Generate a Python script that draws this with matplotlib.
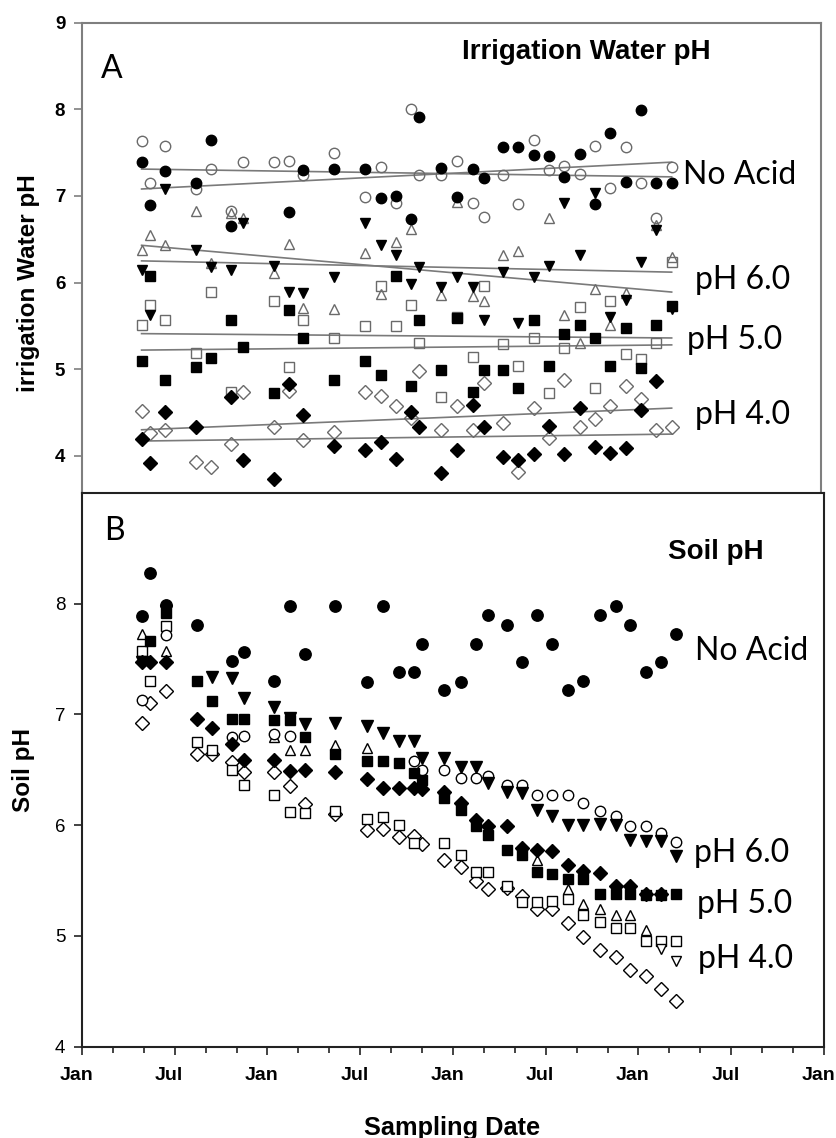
import numpy as np
import matplotlib.pyplot as plt
import matplotlib.transforms as mtransforms

plt.rcParams['font.family'] = 'Liberation Sans'

# sampling dates as months counted from Jan of the first year
water_months = [3.87, 4.40, 5.42, 7.43, 8.40, 9.70, 10.45, 12.44, 13.43, 14.33,
                16.34, 18.39, 19.41, 20.42, 21.39, 21.92, 23.32, 24.38, 25.39, 26.13,
                27.35, 28.32, 29.34, 30.31, 31.33, 32.32, 33.34, 34.31, 35.34, 36.31,
                37.26, 38.30]
soil_months = [3.87, 4.40, 5.42, 7.43, 8.40, 9.70, 10.45, 12.44, 13.43, 14.40,
               16.39, 18.44, 19.48, 20.49, 21.46, 22.00, 23.45, 24.53, 25.50, 26.28,
               27.51, 28.48, 29.45, 30.42, 31.46, 32.43, 33.50, 34.52, 35.45, 36.46,
               37.44, 38.41]

# --- irrigation water pH (panel A) ---
water_circle_filled = [7.39, 6.89, 7.29, 7.15, 7.65, 6.65, None, None, 6.82, 7.30, 7.31, 7.31, 6.98, 7.00, 6.73, 7.91,
                       7.32, 6.99, 7.31, 7.21, 7.56, 7.56, 7.47, 7.46, 7.22, 7.48, 6.91, 7.73, 7.16, 7.99, 7.15, 7.15]
water_circle_open = [7.63, 7.15, 7.58, 7.08, 7.31, 6.83, 7.39, 7.39, 7.40, 7.24, 7.49, 6.99, 7.33, 6.92, 8.00, 7.24,
                     7.24, 7.40, 6.92, 6.76, 7.24, 6.91, 7.65, 7.30, 7.35, 7.25, 7.58, 7.09, 7.56, 7.15, 6.75, 7.33]
water_tri_filled = [6.14, 5.62, 7.08, 6.37, 6.18, 6.14, 6.69, 6.19, 5.89, 5.88, 6.06, 6.69, 6.43, 6.32, 5.98, 6.18,
                    5.95, 6.06, 5.95, 5.57, 6.12, 5.53, 6.06, 6.19, 6.92, 6.32, 7.03, 5.60, 5.80, 6.24, 6.61, 5.70]
water_tri_open = [6.37, 6.55, 6.43, 6.83, 6.22, 6.80, 6.74, 6.11, 6.45, 5.71, 5.69, 6.34, 5.87, 6.47, 6.62, None,
                  5.86, 6.93, 5.84, 5.79, 6.32, 6.36, None, 6.74, 5.62, 5.30, 5.93, 5.51, 5.88, None, 6.66, 6.30]
water_square_filled = [5.09, 6.07, 4.87, 5.03, 5.13, 5.57, 5.25, 4.73, 5.68, 5.36, 4.88, 5.09, 4.93, 6.07, 4.80, 5.57,
                       4.99, 5.59, 4.74, 4.99, 4.99, 4.78, 5.57, 5.04, 5.41, 5.51, 5.36, 5.04, 5.47, 5.01, 5.51, 5.73]
water_square_open = [5.51, 5.74, 5.57, 5.19, 5.89, 4.74, None, 5.79, 5.03, 5.57, 5.36, 5.50, 5.96, 5.50, 5.74, 5.30,
                     4.68, 5.60, 5.14, 5.96, 5.29, 5.04, 5.36, 4.73, 5.24, 5.72, 4.78, 5.79, 5.18, 5.12, 5.30, 6.24]
water_diamond_filled = [4.19, 3.92, 4.50, 4.33, None, 4.68, 3.95, 3.73, 4.83, 4.47, 4.11, 4.07, 4.16, 3.96, 4.51, 4.33,
                        3.80, 4.07, 4.59, 4.33, 3.99, 3.95, 4.02, 4.34, 4.02, 4.55, 4.10, 4.03, 4.09, 4.53, 4.86, None]
water_diamond_open = [4.52, 4.26, 4.30, 3.93, 3.87, 4.14, 4.74, 4.33, 4.75, 4.18, 4.28, 4.74, 4.69, 4.57, 4.44, 4.98,
                      4.30, 4.57, 4.30, 4.84, 4.38, 3.81, 4.55, 4.20, 4.87, 4.33, 4.43, 4.57, 4.80, 4.66, 4.30, 4.33]

# linear trend lines of panel A (value at first and last sampling date)
water_trend_start = [7.31, 7.08, 6.25, 6.43, 5.22, 5.41, 4.17, 4.30]
water_trend_end = [7.22, 7.39, 6.12, 5.89, 5.28, 5.36, 4.25, 4.55]

# --- soil pH (panel B) ---
soil_circle_filled = [7.89, 8.28, 7.99, 7.81, None, 7.48, 7.56, 7.30, 7.98, 7.55, 7.98, 7.29, 7.98, 7.38, 7.38, 7.64,
                      7.22, 7.29, 7.64, 7.90, 7.81, 7.47, 7.90, 7.64, 7.22, 7.30, 7.90, 7.98, 7.81, 7.38, 7.47, 7.73]
soil_circle_open = [7.13, None, 7.72, None, None, 6.80, 6.81, 6.82, 6.81, None, None, None, None, None, 6.58, 6.50,
                    6.50, 6.43, 6.43, 6.44, 6.36, 6.36, 6.27, 6.27, 6.27, 6.20, 6.13, 6.08, 5.99, 5.99, 5.93, 5.85]
soil_tri_filled = [7.47, None, 7.93, None, 7.34, 7.33, 7.15, 7.07, 6.97, 6.91, 6.92, 6.90, 6.83, 6.76, 6.76, 6.61,
                   6.61, 6.53, 6.53, 6.38, 6.30, 6.29, 6.14, 6.08, 6.00, 6.00, 6.01, 6.00, 5.87, 5.86, 5.86, 5.72]
soil_tri_open = [7.73, None, 7.57, None, None, None, None, 6.80, 6.68, 6.68, 6.72, 6.70, None, None, None, None,
                 None, None, None, None, None, 5.76, 5.69, None, 5.42, 5.29, 5.24, 5.19, 5.19, 5.05, None, None]
soil_tri_down_open = [4.88, 4.77]   # last two dates
soil_square_filled = [None, 7.66, 7.92, 7.30, 7.12, 6.96, 6.96, 6.95, 6.95, 6.80, 6.64, 6.58, 6.58, 6.56, 6.47, 6.41,
                      6.25, 6.14, 5.99, 5.91, 5.78, 5.73, 5.58, 5.56, 5.51, 5.51, 5.38, 5.38, 5.38, 5.37, 5.37, 5.38]
soil_square_open = [7.57, 7.30, 7.80, 6.75, 6.68, 6.50, 6.36, 6.27, 6.12, 6.11, 6.13, 6.06, 6.07, 6.00, 5.84, None,
                    5.84, 5.73, 5.58, 5.58, 5.45, 5.31, 5.31, 5.32, 5.33, 5.19, 5.13, 5.07, 5.07, 4.95, 4.95, 4.95]
soil_diamond_filled = [7.47, 7.47, 7.47, 6.96, 6.88, 6.73, 6.59, 6.59, 6.49, 6.50, 6.48, 6.42, 6.34, 6.34, 6.34, 6.33,
                       6.30, 6.20, 6.05, 5.99, 5.99, 5.79, 5.78, 5.77, 5.64, 5.59, 5.57, 5.45, 5.45, 5.38, 5.38, None]
soil_diamond_open = [6.92, 7.10, 7.21, 6.64, 6.64, 6.57, 6.48, 6.48, 6.35, 6.19, 6.10, 5.96, 5.97, 5.89, 5.90, 5.83,
                     5.69, 5.62, 5.50, 5.42, 5.43, 5.36, 5.24, 5.24, 5.12, 4.99, 4.87, 4.81, 4.69, 4.64, 4.52, 4.41]

treatment_labels = ['No Acid', 'pH 6.0', 'pH 5.0', 'pH 4.0']
x_tick_labels = ['Jan', 'Jul']

label_font = 'Lato'

fig = plt.figure(figsize=(8.37, 11.38), dpi=100)
W, H = 837, 1138
axA = fig.add_axes([82 / W, 1 - 493 / H, (821 - 82) / W, (493 - 22.7) / H])
axB = fig.add_axes([82 / W, 1 - 1046.7 / H, (824 - 82) / W, (1046.7 - 493) / H])


def scatter(ax, x, y, marker, filled, size, open_edge, open_face):
    y = np.array(y, dtype=float)
    ax.plot(x, y, linestyle='none', marker=marker, markersize=size,
            markerfacecolor='black' if filled else open_face,
            markeredgecolor='black' if filled else open_edge,
            markeredgewidth=1.0, zorder=3)


# ---------------- Panel A ----------------
wm = np.array(water_months)
for s, e in zip(water_trend_start, water_trend_end):
    axA.plot([wm[0], wm[-1]], [s, e], color='#7a7a7a', lw=1.2, zorder=2)

gray = '#6a6a6a'
scatter(axA, wm, water_diamond_open, 'D', False, 7, gray, 'none')
scatter(axA, wm, water_square_open, 's', False, 7.2, gray, 'none')
scatter(axA, wm, water_tri_open, '^', False, 7.8, gray, 'none')
scatter(axA, wm, water_circle_open, 'o', False, 7.5, gray, 'none')
scatter(axA, wm, water_diamond_filled, 'D', True, 7, gray, 'none')
scatter(axA, wm, water_square_filled, 's', True, 7.2, gray, 'none')
scatter(axA, wm, water_tri_filled, 'v', True, 7.8, gray, 'none')
scatter(axA, wm, water_circle_filled, 'o', True, 7.5, gray, 'none')

axA.set_xlim(0, 48)
axA.set_ylim(3.57, 9.0)
axA.set_yticks([4, 5, 6, 7, 8, 9])
axA.set_xticks([])
axA.spines['bottom'].set_visible(False)
for sp in ['left', 'top', 'right']:
    axA.spines[sp].set_color('#7f7f7f')
    axA.spines[sp].set_linewidth(1.5)
axA.tick_params(axis='y', direction='out', length=5.5, width=1.2, color='#7f7f7f',
                pad=6.5, labelsize=13.5)
for t in axA.get_yticklabels():
    t.set_fontweight('bold')

axA.text(1.25, 8.36, 'A', fontsize=23, family=label_font, va='baseline')
axA.text(32.74, 8.58, 'Irrigation Water pH', fontsize=20, fontweight='bold',
         ha='center', va='baseline')
water_label_pos = [(39.05, 7.14), (39.8, 5.92), (39.27, 5.23), (39.8, 4.37)]
for lab, (lx, ly) in zip(treatment_labels, water_label_pos):
    axA.text(lx, ly, lab, fontsize=23, family=label_font, va='baseline')

# ---------------- Panel B ----------------
sm = np.array(soil_months)
scatter(axB, sm, soil_diamond_open, 'D', False, 7.3, 'black', 'white')
scatter(axB, sm, soil_square_open, 's', False, 7.6, 'black', 'white')
scatter(axB, sm, soil_tri_open, '^', False, 7.8, 'black', 'white')
scatter(axB, sm[-2:], soil_tri_down_open, 'v', False, 7.8, 'black', 'white')
scatter(axB, sm, soil_circle_open, 'o', False, 7.5, 'black', 'white')
scatter(axB, sm, soil_diamond_filled, 'D', True, 7.3, 'black', 'white')
scatter(axB, sm, soil_square_filled, 's', True, 7.6, 'black', 'white')
scatter(axB, sm, soil_tri_filled, 'v', True, 8.0, 'black', 'white')
scatter(axB, sm, soil_circle_filled, 'o', True, 8.2, 'black', 'white')

axB.set_xlim(0, 48)
axB.set_ylim(4, 9.0)
axB.set_yticks([4, 5, 6, 7, 8])
axB.set_xticks(np.arange(0, 49, 6))
axB.set_xticklabels([x_tick_labels[i % 2] for i in range(9)])
axB.set_xticks(np.arange(0, 49, 2), minor=True)
for sp in axB.spines.values():
    sp.set_color('#222222')
    sp.set_linewidth(1.5)
axB.tick_params(axis='y', direction='out', length=5.5, width=1.2, color='#222222',
                pad=6.5, labelsize=13.5)
axB.tick_params(axis='x', which='major', direction='out', length=5.5, width=1.2,
                color='#222222', pad=9, labelsize=14)
axB.tick_params(axis='x', which='minor', direction='out', length=4, width=1.2,
                color='#222222')
# month labels sit a little left of their ticks, as in the original
shift = mtransforms.ScaledTranslation(-5.5 / 100, 0, fig.dpi_scale_trans)
for t in axB.get_xticklabels():
    t.set_fontweight('bold')
    t.set_transform(t.get_transform() + shift)

axB.text(1.42, 8.58, 'B', fontsize=23, family=label_font, va='baseline')
axB.text(41.0, 8.40, 'Soil pH', fontsize=20, fontweight='bold', ha='center', va='baseline')
soil_label_pos = [(39.64, 7.49), (39.6, 5.67), (39.77, 5.21), (39.88, 4.71)]
for lab, (lx, ly) in zip(treatment_labels, soil_label_pos):
    axB.text(lx, ly, lab, fontsize=23, family=label_font, va='baseline')

# axis titles
fig.text(28.3 / W, 1 - 283 / H, 'irrigation Water pH', rotation=90, fontsize=17.5,
         fontweight='bold', ha='center', va='center')
fig.text(23.6 / W, 1 - 770 / H, 'Soil pH', rotation=90, fontsize=17.5,
         fontweight='bold', ha='center', va='center')
fig.text(452.5 / W, 1 - 1135 / H, 'Sampling Date', fontsize=18.3, fontweight='bold',
         ha='center', va='baseline')

fig.savefig('out.png', dpi=100)
